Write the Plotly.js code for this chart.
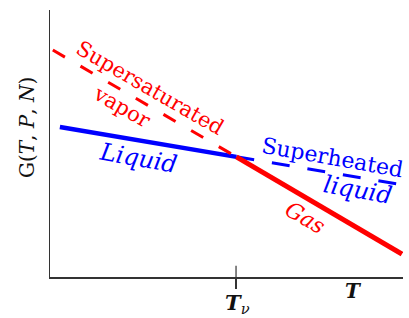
<!DOCTYPE html>
<html>
<head>
<meta charset="utf-8">
<script src="https://cdn.plot.ly/plotly-3.0.1.min.js"></script>
<style>
  html, body { margin: 0; padding: 0; background: #fff; }
  #chart { width: 409px; height: 318px; }
</style>
</head>
<body>
<div id="chart"></div>
<script>
// Temperature (arbitrary units) and Gibbs free energy (arbitrary units)
const T_vapor = [0.08, 5.28];          // supersaturated vapor branch (dashed red)
const G_vapor = [8.50, 4.50];
const T_gas = [5.28, 9.97];            // stable gas branch (solid red)
const G_gas = [4.50, 0.86];
const T_liquid = [0.28, 5.28];         // stable liquid branch (solid blue)
const G_liquid = [5.62, 4.50];
const T_superliquid = [5.28, 9.86];    // superheated liquid branch (dashed blue)
const G_superliquid = [4.50, 3.48];
const T_v = [5.27];                    // transition temperature tick
const tickLabels = ['T', 'ν'];

const red = '#ff0000', blue = '#0000ff', axisColor = '#333333';
const serif = 'DejaVu Serif, Liberation Serif, serif';

const traces = [
  {x: T_liquid, y: G_liquid, mode: 'lines', line: {color: blue, width: 4.5}, hoverinfo: 'skip', showlegend: false},
  {x: T_superliquid, y: G_superliquid, mode: 'lines', line: {color: blue, width: 3, dash: '18px,18px'}, hoverinfo: 'skip', showlegend: false},
  {x: T_vapor, y: G_vapor, mode: 'lines', line: {color: red, width: 3, dash: '14px,18px'}, hoverinfo: 'skip', showlegend: false},
  {x: T_gas, y: G_gas, mode: 'lines', line: {color: red, width: 5}, hoverinfo: 'skip', showlegend: false}
];

function lab(text, x, y, color, size, angle) {
  return {text: text, x: x, y: y, xref: 'x', yref: 'y', showarrow: false,
          textangle: angle, xanchor: 'center', yanchor: 'middle',
          font: {family: serif, size: size, color: color}};
}

const layout = {
  width: 409, height: 318,
  margin: {l: 50, r: 6, t: 10, b: 41},
  paper_bgcolor: '#fff', plot_bgcolor: '#fff',
  xaxis: {range: [0, 10], showgrid: false, zeroline: false, showline: true,
          linecolor: axisColor, linewidth: 1.5, tickvals: T_v, ticks: 'outside',
          ticklen: 10, tickwidth: 1.2, tickcolor: axisColor, showticklabels: false, fixedrange: true},
  yaxis: {range: [0, 10], showgrid: false, zeroline: false, showline: true,
          linecolor: axisColor, linewidth: 1.5, ticks: '', showticklabels: false, fixedrange: true},
  shapes: [
    {type: 'line', xref: 'x', yref: 'y', x0: T_v[0], x1: T_v[0], y0: 0, y1: 0.42,
     line: {color: axisColor, width: 1.2}}
  ],
  annotations: [
    lab('Supersaturated', 2.83, 7.08, red, 21, 30),
    lab('vapor', 2.04, 6.37, red, 21, 30),
    lab('<i>Liquid</i>', 2.48, 4.46, blue, 24, 10),
    lab('Superheated', 7.99, 4.49, blue, 22, 10),
    lab('<i>liquid</i>', 8.72, 3.26, blue, 24, 10),
    lab('<i>Gas</i>', 7.22, 2.21, red, 22, 30),
    {text: '<b><i>' + tickLabels[0] + '</i></b><sub><i>' + tickLabels[1] + '</i></sub>',
     x: 5.30, y: -0.10, xref: 'x', yref: 'paper', showarrow: false, xanchor: 'center', yanchor: 'middle',
     font: {family: serif, size: 21, color: '#111'}},
    {text: '<b><i>T</i></b>', x: 8.61, y: -0.052, xref: 'x', yref: 'paper', showarrow: false,
     xanchor: 'center', yanchor: 'middle', font: {family: serif, size: 20, color: '#111'}},
    {text: 'G(<i>T</i>, <i>P</i>, <i>N</i>)', x: -0.065, y: 0.558, xref: 'paper', yref: 'paper',
     showarrow: false, textangle: -90, xanchor: 'center', yanchor: 'middle',
     font: {family: serif, size: 20, color: '#111'}}
  ]
};

Plotly.newPlot('chart', traces, layout, {displayModeBar: false, staticPlot: true});
</script>
</body>
</html>
